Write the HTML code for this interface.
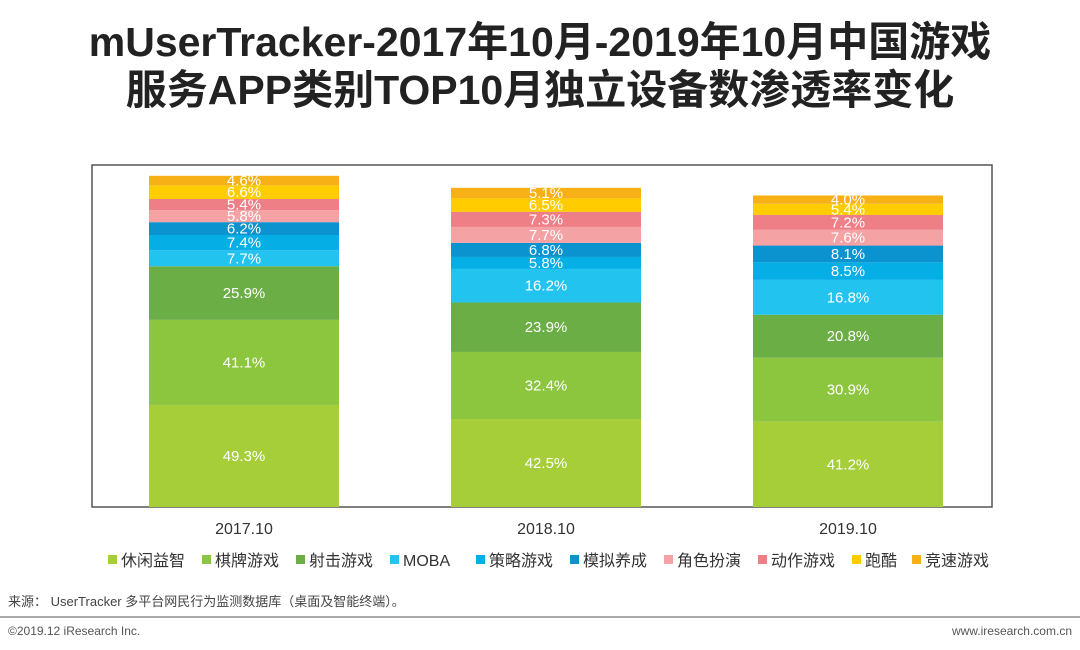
<!DOCTYPE html>
<html><head><meta charset="utf-8"><style>
body{margin:0;width:1080px;height:650px;background:#fff;font-family:"Liberation Sans","Noto Sans CJK SC",sans-serif;overflow:hidden;position:relative}
.t{position:absolute;left:0;width:1080px;text-align:center;font-weight:bold;font-size:41px;color:#222;line-height:48px}
</style></head><body>
<div class="t" style="top:18px">mUserTracker-2017年10月-2019年10月中国游戏</div>
<div class="t" style="top:66px">服务APP类别TOP10月独立设备数渗透率变化</div>
<svg id="chart" width="1080" height="650" style="position:absolute;left:0;top:0">
<rect x="92" y="165" width="900" height="342" fill="none" stroke="#555" stroke-width="1.5"/>
<line x1="0" y1="617" x2="1080" y2="617" stroke="#aaa" stroke-width="2"/>
<text x="8" y="606" font-size="13" fill="#444">来源：  UserTracker 多平台网民行为监测数据库（桌面及智能终端）。</text>
<text x="8" y="635" font-size="12" fill="#555">©2019.12 iResearch Inc.</text>
<text x="1072" y="635" font-size="12" fill="#555" text-anchor="end">www.iresearch.com.cn</text>
</svg>
<script>
const categories=["2017.10","2018.10","2019.10"];
const seriesNames=["休闲益智","棋牌游戏","射击游戏","MOBA","策略游戏","模拟养成","角色扮演","动作游戏","跑酷","竞速游戏"];
const s0=[49.3,42.5,41.2];
const s1=[41.1,32.4,30.9];
const s2=[25.9,23.9,20.8];
const s3=[7.7,16.2,16.8];
const s4=[7.4,5.8,8.5];
const s5=[6.2,6.8,8.1];
const s6=[5.8,7.7,7.6];
const s7=[5.4,7.3,7.2];
const s8=[6.6,6.5,5.4];
const s9=[4.6,5.1,4.0];
const series=[s0,s1,s2,s3,s4,s5,s6,s7,s8,s9];
const colors=["#a6ce39","#8cc63f","#6aae45","#22c4ef","#06aee6","#0a93cf","#f5a2a5","#ef7f87","#ffcc00","#f7b116"];
const svg=document.getElementById('chart');
const NS="http://www.w3.org/2000/svg";
const baseY=507,pxPer=2.07;
const y=v=>baseY-v*pxPer;
const xLeft=[149,452,753],bw=190;
const x=i=>xLeft[0]+i*((xLeft[2]-xLeft[0])/2);
categories.forEach((c,i)=>{
  let cum=0;
  series.forEach((s,k)=>{
    const v=s[i];
    const r=document.createElementNS(NS,'rect');
    r.setAttribute('x',x(i));r.setAttribute('width',bw);
    r.setAttribute('y',y(cum+v));r.setAttribute('height',v*pxPer);
    r.setAttribute('fill',colors[k]);
    
    
    svg.appendChild(r);
    const t=document.createElementNS(NS,'text');
    t.setAttribute('x',x(i)+bw/2);t.setAttribute('y',y(cum+v/2)+5);
    t.setAttribute('text-anchor','middle');t.setAttribute('font-size','15');t.setAttribute('fill','#fff');
    t.textContent=v.toFixed(1)+'%';
    
    
    svg.appendChild(t);
    cum+=v;
  });
  const l=document.createElementNS(NS,'text');
  l.setAttribute('x',x(i)+bw/2);l.setAttribute('y',534);
  l.setAttribute('text-anchor','middle');l.setAttribute('font-size','16');l.setAttribute('fill','#333');
  l.textContent=c;
  
  
  svg.appendChild(l);
});
const legX=[108,202,296,390,476,570,664,758,852,912];
seriesNames.forEach((n,k)=>{
  const g=document.createElementNS(NS,'g');
  
  
  const r=document.createElementNS(NS,'rect');
  r.setAttribute('x',legX[k]);r.setAttribute('y',555);r.setAttribute('width',9);r.setAttribute('height',9);r.setAttribute('fill',colors[k]);
  
  
  const t=document.createElementNS(NS,'text');
  t.setAttribute('x',legX[k]+13);t.setAttribute('y',566);t.setAttribute('font-size','16');t.setAttribute('fill','#333');
  t.textContent=n;
  
  
  g.appendChild(r);g.appendChild(t);svg.appendChild(g);
});
</script>
</body></html>
